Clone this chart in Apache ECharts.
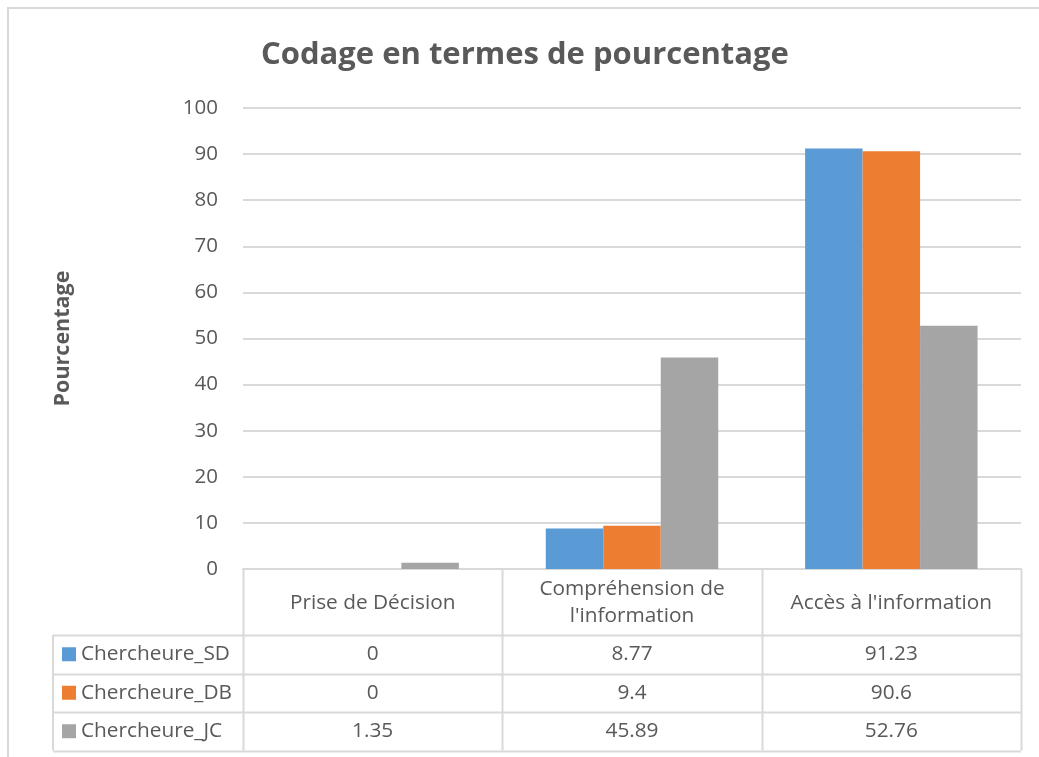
<!DOCTYPE html>
<html>
<head>
<meta charset="utf-8">
<title>Codage en termes de pourcentage</title>
<script src="https://cdn.jsdelivr.net/npm/echarts@6/dist/echarts.min.js"></script>
<style>
  html, body { margin: 0; padding: 0; background: #fff; }
  #container1 { width: 1039px; height: 757px; }
</style>
</head>
<body>
<div id="container1"></div>
<script>
// data
var categories = ['Prise de Décision', 'Compréhension de\nl\'information', 'Accès à l\'information'];
var seriesNames = ['Chercheure_SD', 'Chercheure_DB', 'Chercheure_JC'];
var chercheureSD = [0, 8.77, 91.23];
var chercheureDB = [0, 9.4, 90.6];
var chercheureJC = [1.35, 45.89, 52.76];
var yTicks = [0, 10, 20, 30, 40, 50, 60, 70, 80, 90, 100];

var colors = ['#5b9bd5', '#ed7d31', '#a5a5a5'];
var allValues = [chercheureSD, chercheureDB, chercheureJC];

var dom = document.getElementById("container1");
var myChart = echarts.init(dom);
var font = '"Open Sans", sans-serif';
var txtColor = '#595959';
var lineColor = '#d9d9d9';
var tableFont = '20.8px ' + font;

// plot box
var W = 1039, H = 757;
var gLeft = 243, gRight = 18, gTop = 108, gBottom = 188;
var plotBottom = H - gBottom;
var plotRight = W - gRight;
var colW = (plotRight - gLeft) / categories.length;
var tableLeft = 53;
var headerBottom = 635;
var rowH = 38.5;

// table drawn as graphic elements built from the arrays
var graphics = [];
// outer chart frame
graphics.push({type: 'rect', shape: {x: 8, y: 8, width: W + 20, height: H + 20},
  style: {fill: 'none', stroke: lineColor, lineWidth: 2}, silent: true});

var tableBottom = headerBottom + rowH * seriesNames.length;
// vertical lines
for (var c = 0; c <= categories.length; c++) {
  var x = Math.round(gLeft + c * colW) + 0.5;
  graphics.push({type: 'line', shape: {x1: x, y1: plotBottom, x2: x, y2: tableBottom},
    style: {stroke: lineColor, lineWidth: 2}, silent: true});
}
graphics.push({type: 'line', shape: {x1: tableLeft, y1: headerBottom, x2: tableLeft, y2: tableBottom},
  style: {stroke: lineColor, lineWidth: 2}, silent: true});
// horizontal lines
for (var r = 0; r <= seriesNames.length; r++) {
  var y = Math.round(headerBottom + r * rowH) + 0.5;
  graphics.push({type: 'line', shape: {x1: tableLeft, y1: y, x2: plotRight, y2: y},
    style: {stroke: lineColor, lineWidth: 2}, silent: true});
}
// header texts
categories.forEach(function (name, i) {
  graphics.push({type: 'text', x: gLeft + (i + 0.5) * colW, y: (plotBottom + headerBottom) / 2 + 1,
    style: {text: name, font: tableFont, fill: txtColor, align: 'center',
      verticalAlign: 'middle', lineHeight: 27}, silent: true});
});
// rows
seriesNames.forEach(function (name, r) {
  var cy = headerBottom + (r + 0.5) * rowH;
  graphics.push({type: 'rect', shape: {x: 62, y: cy - 7, width: 14, height: 14},
    style: {fill: colors[r]}, silent: true});
  graphics.push({type: 'text', x: 81, y: cy,
    style: {text: name, font: tableFont, fill: txtColor, align: 'left', verticalAlign: 'middle'}, silent: true});
  allValues[r].forEach(function (v, i) {
    graphics.push({type: 'text', x: gLeft + (i + 0.5) * colW, y: cy,
      style: {text: String(v), font: tableFont, fill: txtColor, align: 'center', verticalAlign: 'middle'}, silent: true});
  });
});

var series = seriesNames.map(function (name, i) {
  return {
    name: name,
    type: 'bar',
    data: allValues[i],
    barGap: '0%',
    barCategoryGap: '33.5%',
    itemStyle: {color: colors[i]}
  };
});

option = {
  animation: false,
  backgroundColor: '#fff',
  color: colors,
  title: {
    text: 'Codage en termes de pourcentage',
    left: 256,
    top: 35,
    textStyle: {fontFamily: font, fontSize: 31, fontWeight: 'bold', color: txtColor}
  },
  grid: {left: gLeft, right: gRight, top: gTop, bottom: gBottom, containLabel: false},
  xAxis: {
    type: 'category',
    data: categories,
    axisLine: {show: true, lineStyle: {color: lineColor, width: 2}},
    axisTick: {show: false},
    axisLabel: {show: false}
  },
  yAxis: {
    type: 'value',
    min: yTicks[0],
    max: yTicks[yTicks.length - 1],
    interval: yTicks[1] - yTicks[0],
    name: 'Pourcentage',
    nameLocation: 'middle',
    nameGap: 169,
    nameRotate: 90,
    nameTextStyle: {fontFamily: font, fontSize: 21.5, fontWeight: 'bold', color: txtColor},
    axisLine: {show: false},
    axisTick: {show: false},
    axisLabel: {fontFamily: font, fontSize: 20.5, color: txtColor, margin: 25},
    splitLine: {lineStyle: {color: lineColor, width: 2}}
  },
  series: series,
  graphic: graphics
};

if (option && typeof option === "object") {
    myChart.setOption(option, true);
}
</script>
</body>
</html>
